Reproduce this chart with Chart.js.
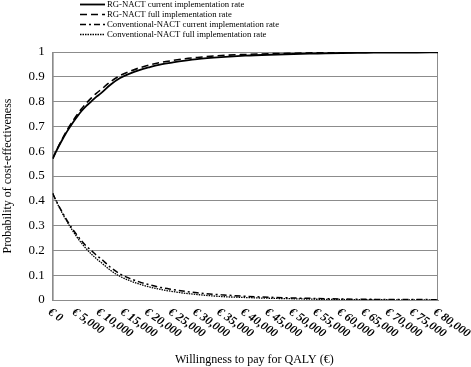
<!DOCTYPE html>
<html lang="en">
<head>
    <meta charset="UTF-8">
    <title>Cost-effectiveness acceptability curve</title>
    <script src="https://cdn.jsdelivr.net/npm/chart.js"></script>
    <style>
        html, body { margin: 0; padding: 0; background: #fff; }
        #wrap { width: 471px; height: 367px; }
    </style>
</head>
<body>
    <div id="wrap"><canvas id="myChart" width="471" height="367"></canvas></div>

    <script>
        // willingness to pay (EUR per QALY)
        var wtp = [0, 1000, 2000, 3000, 4000, 5000, 6000, 7000, 8000, 9000, 10000, 12000, 14000, 16000, 18000, 20000,
                   22500, 25000, 27500, 30000, 35000, 40000, 45000, 50000, 55000, 60000, 65000, 70000, 75000, 80000];

        var rgCurrent = [0.570, 0.610, 0.646, 0.680, 0.710, 0.737, 0.762, 0.783, 0.800, 0.818, 0.833, 0.868, 0.895, 0.913, 0.927, 0.938,
                         0.950, 0.958, 0.965, 0.971, 0.979, 0.985, 0.989, 0.992, 0.994, 0.996, 0.997, 0.998, 0.998, 0.999];
        var rgFull = [0.570, 0.612, 0.650, 0.685, 0.716, 0.745, 0.771, 0.794, 0.814, 0.832, 0.848, 0.880, 0.905, 0.922, 0.936, 0.947,
                      0.958, 0.966, 0.973, 0.978, 0.986, 0.990, 0.993, 0.995, 0.997, 0.998, 0.999, 0.999, 1.000, 1.000];
        var convCurrent = [0.430, 0.390, 0.354, 0.320, 0.290, 0.263, 0.238, 0.217, 0.200, 0.182, 0.167, 0.132, 0.105, 0.087, 0.073, 0.062,
                           0.050, 0.042, 0.035, 0.029, 0.021, 0.015, 0.011, 0.008, 0.006, 0.004, 0.003, 0.002, 0.002, 0.001];
        var convFull = [0.430, 0.388, 0.350, 0.315, 0.284, 0.255, 0.229, 0.206, 0.186, 0.168, 0.152, 0.120, 0.095, 0.078, 0.064, 0.053,
                        0.042, 0.034, 0.027, 0.022, 0.014, 0.010, 0.007, 0.005, 0.003, 0.002, 0.001, 0.001, 0.000, 0.000];

        var seriesNames = ["RG-NACT current implementation rate", "RG-NACT full implementation rate",
                           "Conventional-NACT current implementation rate", "Conventional-NACT full implementation rate"];

        var xTickStep = 5000;
        var serif = "'Liberation Serif', 'DejaVu Serif', serif";

        function pts(ys) {
            return ys.map(function (y, i) { return { x: wtp[i], y: y }; });
        }

        function fmtEuro(v) {
            return "\u20AC " + v.toLocaleString("en-US");
        }

        // legend stacked top-left, like the original
        var stackedLegend = {
            id: "stackedLegend",
            afterDraw: function (chart) {
                var ctx = chart.ctx;
                ctx.save();
                ctx.font = "8.7px " + serif;
                ctx.textBaseline = "middle";
                ctx.fillStyle = "#000";
                chart.data.datasets.forEach(function (ds, i) {
                    var y = 4.5 + i * 10;
                    ctx.strokeStyle = ds.borderColor;
                    ctx.lineWidth = ds.borderWidth;
                    ctx.setLineDash(ds.borderDash || []);
                    ctx.beginPath();
                    ctx.moveTo(80, y);
                    ctx.lineTo(105, y);
                    ctx.stroke();
                    ctx.setLineDash([]);
                    ctx.fillText(ds.label, 107, y);
                });
                ctx.restore();
            }
        };

        // frame + slanted x labels
        var frameAndLabels = {
            id: "frameAndLabels",
            beforeDatasetsDraw: function (chart) {
                var a = chart.chartArea, ctx = chart.ctx;
                ctx.save();
                ctx.strokeStyle = "#8c8c8c";
                ctx.lineWidth = 1;
                ctx.strokeRect(a.left + 0.5, a.top + 0.5, a.right - a.left - 1, a.bottom - a.top);
                ctx.restore();
            },
            afterDraw: function (chart) {
                var xs = chart.scales.x, a = chart.chartArea, ctx = chart.ctx;
                ctx.save();
                ctx.font = "italic bold 12px " + serif;
                ctx.fillStyle = "#000";
                ctx.textAlign = "left";
                ctx.textBaseline = "top";
                xs.ticks.forEach(function (t) {
                    var px = xs.getPixelForValue(t.value);
                    ctx.save();
                    ctx.translate(px, a.bottom + 6);
                    ctx.rotate(35 * Math.PI / 180);
                    ctx.fillText(fmtEuro(t.value), 0, 0);
                    ctx.restore();
                });
                ctx.font = "12px " + serif;
                ctx.textAlign = "center";
                ctx.textBaseline = "middle";
                ctx.fillText("Willingness to pay for QALY (\u20AC)", (a.left + a.right) / 2 + 9, 360);
                ctx.restore();
            }
        };

        var ctx = document.getElementById("myChart").getContext("2d");
        var myChart = new Chart(ctx, {
            type: "line",
            data: {
                datasets: [{
                    label: seriesNames[0],
                    data: pts(rgCurrent),
                    borderColor: "#000",
                    borderWidth: 1.8,
                    borderDash: []
                }, {
                    label: seriesNames[1],
                    data: pts(rgFull),
                    borderColor: "#000",
                    borderWidth: 1.6,
                    borderDash: [7, 4]
                }, {
                    label: seriesNames[2],
                    data: pts(convCurrent),
                    borderColor: "#000",
                    borderWidth: 1.5,
                    borderDash: [6, 3, 2, 3]
                }, {
                    label: seriesNames[3],
                    data: pts(convFull),
                    borderColor: "#000",
                    borderWidth: 1.3,
                    borderDash: [1.5, 1]
                }]
            },
            options: {
                responsive: false,
                animation: false,
                layout: { padding: { top: 52, left: 1, right: 33, bottom: 59 } },
                elements: {
                    point: { radius: 0 },
                    line: { cubicInterpolationMode: "monotone", fill: false }
                },
                plugins: {
                    legend: { display: false },
                    tooltip: { enabled: false }
                },
                scales: {
                    x: {
                        type: "linear",
                        min: 0,
                        max: 80000,
                        ticks: { display: false, stepSize: xTickStep },
                        grid: { display: false },
                        border: { display: true, color: "#8c8c8c" }
                    },
                    y: {
                        min: 0,
                        max: 1,
                        ticks: {
                            stepSize: 0.1,
                            padding: 8,
                            color: "#000",
                            font: { family: serif, size: 13 },
                            callback: function (v) { return String(+v.toFixed(1)); }
                        },
                        grid: { color: "#8c8c8c", drawTicks: false },
                        border: { display: true, color: "#8c8c8c" },
                        title: {
                            display: true,
                            text: "Probability of cost-effectiveness",
                            color: "#000",
                            font: { family: serif, size: 12 },
                            padding: { top: 0, bottom: 5 }
                        }
                    }
                }
            },
            plugins: [stackedLegend, frameAndLabels]
        });
    </script>
</body>
</html>
